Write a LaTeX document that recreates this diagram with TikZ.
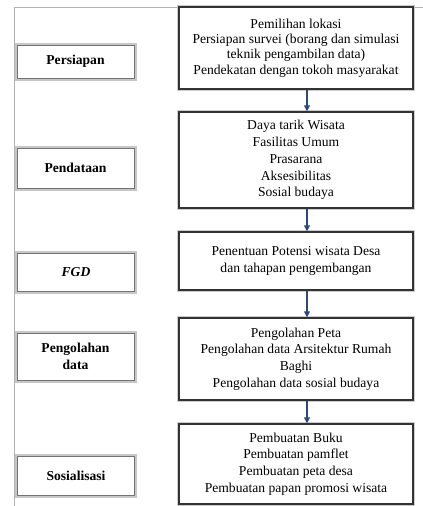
\documentclass[tikz,border=0pt]{standalone}
\usepackage{fontspec}
\setmainfont{Liberation Serif}
\usepackage{tikz}
\usetikzlibrary{arrows.meta}
\usepackage{xcolor}
\definecolor{panah}{HTML}{2E4A7D}

\tikzset{
  tahap/.style={draw=black!55, line width=1pt, fill=white,
    preaction={draw=black!22, line width=5pt},
    minimum width=117pt, inner sep=0pt, align=center,
    font=\fontsize{13.6}{17.5}\selectfont\bfseries},
  isi/.style={draw=black!80, line width=1.4pt, fill=white,
    preaction={draw=black!20, line width=4pt},
    minimum width=234pt, inner sep=0pt, align=center,
    font=\fontsize{13.6}{16.8}\selectfont},
  alur/.style={-{Triangle[length=6pt, width=6pt]}, line width=1.5pt, draw=panah}
}

\begin{document}
\begin{tikzpicture}[x=1pt, y=-1pt]
                \useasboundingbox (0,0) rectangle (423,506);

                % Garis bingkai
                \draw[black!30, line width=1pt] (423,7) -- (14,7) -- (14,506);

                % Kotak kiri
                \node[tahap, minimum height=33pt] (persiapan) at (75.5,61.5) {Persiapan};
                \node[tahap, minimum height=40pt] (pendataan) at (75.5,168) {Pendataan};
                \node[tahap, minimum height=38pt] (fgd) at (76,272) {\itshape FGD};
                \node[tahap, minimum height=47pt] (olah) at (75.5,356.5) {Pengolahan\\data};
                \node[tahap, minimum height=39pt] (sosial) at (76,475.5) {Sosialisasi};

                % Kotak kanan
                \node[isi, minimum height=82pt, font=\fontsize{13.6}{15.4}\selectfont] (b1) at (296,48) {Pemilihan lokasi\\Persiapan survei (borang dan simulasi\\teknik pengambilan data)\\Pendekatan dengan tokoh masyarakat};
                \node[isi, minimum height=96pt] (b2) at (296,160) {Daya tarik Wisata\\Fasilitas Umum\\Prasarana\\Aksesibilitas\\Sosial budaya};
                \node[isi, minimum height=58pt] (b3) at (296,261) {Penentuan Potensi wisata Desa\\dan tahapan pengembangan};
                \node[isi, minimum height=82pt] (b4) at (296,359) {Pengolahan Peta\\Pengolahan data Arsitektur Rumah\\Baghi\\Pengolahan data sosial budaya};
                \node[isi, minimum height=80pt] (b5) at (296,464) {Pembuatan Buku\\Pembuatan pamflet\\Pembuatan peta desa\\Pembuatan papan promosi wisata};

                % Panah
                \coordinate (ax) at (307,0);
                \draw[alur] (b1.south -| ax) -- (b2.north -| ax);
                \draw[alur] (b2.south -| ax) -- (b3.north -| ax);
                \draw[alur] (b3.south -| ax) -- (b4.north -| ax);
                \draw[alur] (b4.south -| ax) -- (b5.north -| ax);

            \end{tikzpicture}
\end{document}
